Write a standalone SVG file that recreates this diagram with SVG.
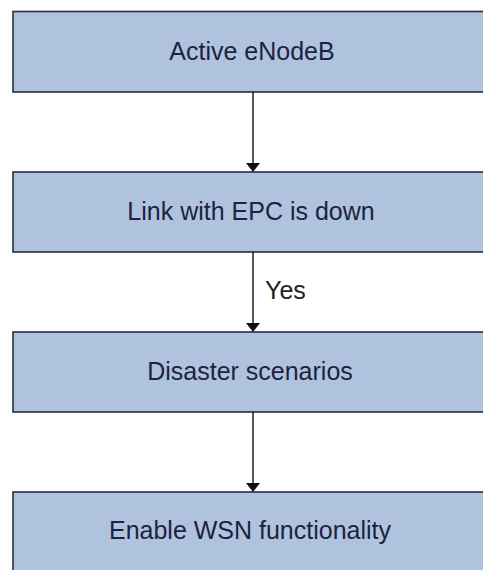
<svg xmlns="http://www.w3.org/2000/svg" width="483" height="570" viewBox="0 0 483 570">
  <defs>
    <style>
      .box { fill: #afc3df; stroke: #2a2e38; stroke-width: 1.6; }
      .label { font-family: "Liberation Sans", Arial, sans-serif; font-size: 25px; fill: #1c2240; text-anchor: middle; }
      .edge { stroke: #111; stroke-width: 1.4; fill: none; }
      .head { fill: #111; }
      .note { font-family: "Liberation Sans", Arial, sans-serif; font-size: 25px; fill: #222; }
    </style>
  </defs>
  <rect width="483" height="570" fill="#ffffff"/>

  <g id="node-active-enodeb">
    <rect class="box" x="13" y="11.5" width="480" height="80.5"/>
    <text class="label" x="252" y="60">Active eNodeB</text>
  </g>

  <g id="node-link-down">
    <rect class="box" x="13" y="172" width="480" height="80"/>
    <text class="label" x="251" y="220">Link with EPC is down</text>
  </g>

  <g id="node-disaster">
    <rect class="box" x="13" y="332" width="480" height="80"/>
    <text class="label" x="250" y="380">Disaster scenarios</text>
  </g>

  <g id="node-enable-wsn">
    <rect class="box" x="13" y="492" width="480" height="90"/>
    <text class="label" x="250" y="539">Enable WSN functionality</text>
  </g>

  <g id="connectors">
    <line class="edge" x1="253" y1="92" x2="253" y2="164"/>
    <polygon class="head" points="246,163 260,163 253,172"/>

    <line class="edge" x1="253" y1="252" x2="253" y2="324"/>
    <polygon class="head" points="246,323 260,323 253,332"/>
    <text class="note" x="265" y="299">Yes</text>

    <line class="edge" x1="253" y1="412" x2="253" y2="484"/>
    <polygon class="head" points="246,483 260,483 253,492"/>
  </g>
</svg>
